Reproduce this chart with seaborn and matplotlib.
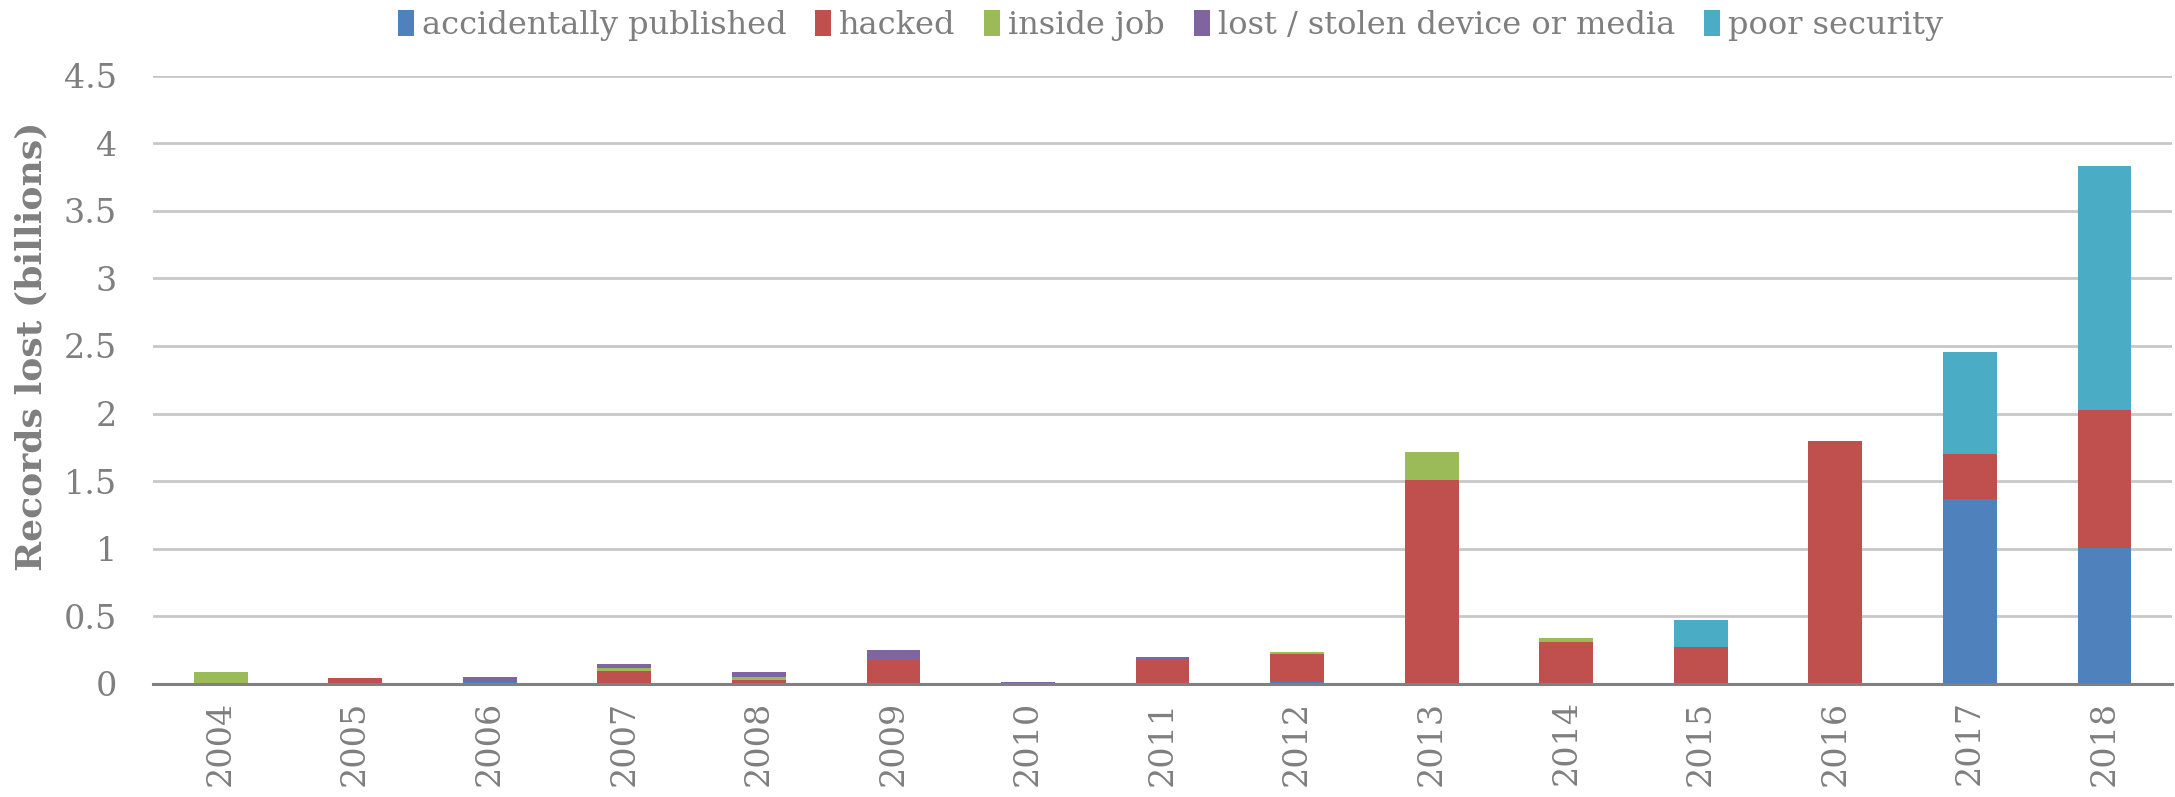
import matplotlib
matplotlib.use("Agg")
import matplotlib.pyplot as plt
import seaborn as sns
import pandas as pd
import numpy as np
from matplotlib.patches import Patch

years = ["2004", "2005", "2006", "2007", "2008", "2009", "2010", "2011",
         "2012", "2013", "2014", "2015", "2016", "2017", "2018"]
categories = ["accidentally published", "hacked", "inside job",
              "lost / stolen device or media", "poor security"]
accidentally_published = [0, 0, 0.012, 0, 0, 0, 0, 0, 0.012, 0, 0, 0, 0, 1.37, 1.005]
hacked = [0, 0.04, 0.01, 0.094, 0.027, 0.173, 0, 0.173, 0.208, 1.505, 0.313, 0.273, 1.796, 0.334, 1.025]
inside_job = [0.087, 0, 0, 0.025, 0.023, 0, 0, 0, 0.012, 0.212, 0.024, 0, 0.004, 0, 0]
lost_stolen = [0, 0.005, 0.025, 0.03, 0.034, 0.079, 0.011, 0.022, 0, 0, 0, 0, 0, 0, 0]
poor_security = [0, 0, 0.007, 0, 0, 0, 0, 0.004, 0, 0, 0, 0.202, 0, 0.75, 1.8]
colors = ["#4F81BD", "#C0504D", "#9BBB59", "#8064A2", "#4BACC6"]

series = [accidentally_published, hacked, inside_job, lost_stolen, poor_security]
df = pd.DataFrame({c: s for c, s in zip(categories, series)}, index=years)
cum = df.cumsum(axis=1)

sns.set_theme(style="white")
plt.rcParams["font.family"] = ["DejaVu Serif"]
text_color = "#7F7F7F"

fig = plt.figure(figsize=(21.75, 7.97), dpi=100)
ax = fig.add_axes([0.0705, 0.142, 0.928, 0.763])

for cat, col in reversed(list(zip(categories, colors))):
    d = pd.DataFrame({"year": years, "value": cum[cat].values})
    sns.barplot(data=d, x="year", y="value", color=col, width=0.4,
                saturation=1, ax=ax, linewidth=0, zorder=3)

ax.set_ylim(0, 4.5)
ax.set_xlim(-0.5, len(years) - 0.5)
yt = np.arange(0, 4.51, 0.5)
ax.set_yticks(yt)
ax.set_yticklabels([("%g" % v) for v in yt])
ax.yaxis.grid(True, color="#C8C8C8", linewidth=2, zorder=0)
ax.set_axisbelow(True)
for s in ["top", "right", "left"]:
    ax.spines[s].set_visible(False)
ax.spines["bottom"].set_color("#808080")
ax.spines["bottom"].set_linewidth(2.2)
ax.spines["bottom"].set_zorder(4)
ax.tick_params(axis="both", length=0, labelsize=24, colors=text_color)
ax.tick_params(axis="y", pad=26)
ax.tick_params(axis="x", pad=12)
plt.setp(ax.get_xticklabels(), rotation=90)
ax.set_xlabel("")
ax.set_ylabel("Records lost (billions)", fontsize=26, fontweight="bold",
              color=text_color, labelpad=10)
ax.yaxis.set_label_coords(-0.052, 0.555)

handles = [Patch(facecolor=c, edgecolor="none") for c in colors]
fig.legend(handles, categories, loc="center", bbox_to_anchor=(0.538, 0.968),
           ncol=5, frameon=False, fontsize=23, handlelength=0.5,
           handleheight=0.9, handletextpad=0.25, columnspacing=0.9,
           labelcolor=text_color)

fig.savefig("out.png", dpi=100)
